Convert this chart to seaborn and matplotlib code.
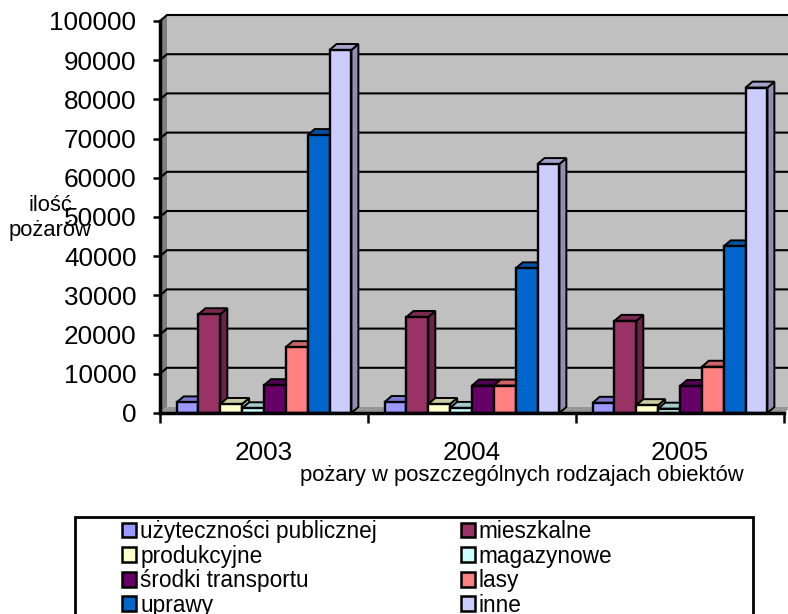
import matplotlib
matplotlib.use("Agg")
import matplotlib.pyplot as plt
from matplotlib.patches import Polygon, Rectangle
from matplotlib.colors import to_rgb
import pandas as pd
import seaborn as sns

years = ["2003", "2004", "2005"]
series_names = ["użyteczności publicznej", "mieszkalne", "produkcyjne", "magazynowe",
                "środki transportu", "lasy", "uprawy", "inne"]
uzytecznosci = [2700, 2800, 2600]
mieszkalne = [25200, 24500, 23500]
produkcyjne = [2300, 2300, 2000]
magazynowe = [1200, 1300, 1100]
srodki = [7100, 7000, 6900]
lasy = [16800, 7000, 11800]
uprawy = [70900, 36900, 42500]
inne = [92600, 63500, 83000]
colors = ["#9999FF", "#993366", "#FFFFCC", "#CCFFFF", "#660066", "#FF8080", "#0066CC", "#CCCCFF"]
y_ticks = list(range(0, 100001, 10000))

plt.rcParams['font.family'] = ['Liberation Sans', 'DejaVu Sans']
W, H = 788, 614
fig = plt.figure(figsize=(W / 100, H / 100), dpi=100)
ax = fig.add_axes([160 / W, 1 - 413 / H, (784 - 160) / W, (413 - 21) / H])

all_vals = [uzytecznosci, mieszkalne, produkcyjne, magazynowe, srodki, lasy, uprawy, inne]
df = pd.DataFrame([{"rok": y, "obiekt": n, "ile": v[i]}
                   for n, v in zip(series_names, all_vals) for i, y in enumerate(years)])
sns.barplot(data=df, x="rok", y="ile", hue="obiekt", hue_order=series_names, palette=colors,
            saturation=1, width=0.84, gap=0, edgecolor="black", linewidth=1.7, ax=ax, legend=True)
ax.set_xlim(-0.5, 2.5)
ax.set_ylim(0, 100000)

# depth of the pseudo-3D box, pixels converted to data units
dx = 7 / 208
dy = 6 / 392 * 100000
x0, x1 = -0.5, 2.5 + dx


def shade(c, f):
    return tuple(v * f for v in to_rgb(c))


def poly(pts, fc, z, ec="none", lw=0):
    ax.add_patch(Polygon(pts, closed=True, facecolor=fc, edgecolor=ec, linewidth=lw,
                         zorder=z, clip_on=False))


ymax = 100000
poly([(x0 + dx, dy), (x1, dy), (x1, ymax + dy), (x0 + dx, ymax + dy)], "#C0C0C0", 0.2)
poly([(x0, 0), (x0 + dx, dy), (x0 + dx, ymax + dy), (x0, ymax)], "#808080", 0.3)
poly([(x0, 0), (x0 + dx, dy), (x1, dy), (x1 - dx, 0)], "#969696", 0.3)
for t in y_ticks[1:]:
    ax.plot([x0, x0 + dx, x1], [t, t + dy, t + dy], color="black", lw=1.5,
            zorder=0.5, clip_on=False, solid_joinstyle="miter")

# bars: front faces from seaborn, then side and top faces from each bar's own geometry
z = 1.0
for i in range(len(years)):
    for container, col in zip(ax.containers, colors):
        b = container[i]
        l, r, h = b.get_x(), b.get_x() + b.get_width(), b.get_height()
        poly([(r, 0), (r + dx, dy), (r + dx, h + dy), (r, h)], shade(col, 0.7), z, "black", 1.4)
        poly([(l, h), (l + dx, h + dy), (r + dx, h + dy), (r, h)], shade(col, 0.8), z, "black", 1.4)
        b.set_zorder(z + 0.1)
        z += 0.2

ax.set_yticks(y_ticks)
ax.set_xticks([0, 1, 2], labels=years)
ax.set_xticks([-0.5, 0.5, 1.5, 2.5], minor=True)
ax.tick_params(axis="y", which="major", length=5, width=1.8, labelsize=18.8, pad=12)
ax.tick_params(axis="x", which="major", length=0, labelsize=18.8, pad=20)
ax.tick_params(axis="x", which="minor", length=7, width=1.8)
for s in ("top", "right"):
    ax.spines[s].set_visible(False)
for s in ("left", "bottom"):
    ax.spines[s].set_linewidth(2.5)
    ax.spines[s].set_zorder(20)
ax.set_ylabel("")
ax.set_xlabel("pożary w poszczególnych rodzajach obiektów", fontsize=15.8)
ax.xaxis.set_label_coords((522 - 160) / 624, -(476 - 413) / 392, transform=ax.transAxes)
ax.xaxis.label.set_verticalalignment("center")

fig.text(50 / W, 1 - 218 / H, "ilość\npożarów", ha="center", va="center", fontsize=15.8, linespacing=1.2)

handles, labels = ax.get_legend_handles_labels()
ax.get_legend().remove()
fig.add_artist(Rectangle((75 / W, 1 - 640 / H), (753 - 75) / W, (640 - 517) / H, transform=fig.transFigure,
                         facecolor="white", edgecolor="black", linewidth=2))
# fill order is column by column: rearrange so that rows read as in the reference
order = [0, 2, 4, 6, 1, 3, 5, 7]
leg = fig.legend([handles[k] for k in order], [labels[k] for k in order], ncol=2,
                 loc="upper left", bbox_to_anchor=(122 / W, 1 - 520 / H),
                 bbox_transform=fig.transFigure, fontsize=16.3, frameon=False,
                 handlelength=0.62, handleheight=0.62, handletextpad=0.18,
                 labelspacing=0.07, borderaxespad=0, borderpad=0, columnspacing=3.7)
for h in leg.legend_handles:
    h.set_linewidth(1.8)
fig.savefig("out.png", dpi=100)
